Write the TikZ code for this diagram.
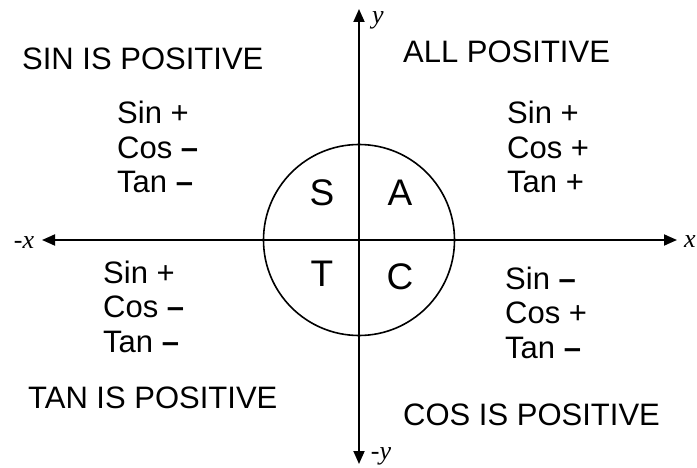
\documentclass[tikz,border=0pt]{standalone}
\usepackage{fontspec}
\setmainfont{Liberation Sans}
\newfontfamily\axisfont{Liberation Serif}
\usetikzlibrary{arrows.meta}

\begin{document}
\begin{tikzpicture}[x=1pt,y=-1pt,
  axisline/.style={line width=1.8pt,
    {Triangle[length=13pt,width=11pt]}-{Triangle[length=13pt,width=11pt]}},
  axislabel/.style={font=\axisfont\itshape\fontsize{26}{28}\selectfont,inner sep=0pt},
  signtext/.style={anchor=base west,align=left,inner sep=0pt,
    font=\fontsize{31}{34.5}\selectfont},
  quadletter/.style={inner sep=0pt,font=\fontsize{37}{40}\selectfont}]
  \useasboundingbox (0,0) rectangle (697,468);

  % axes and unit circle
  \coordinate (o) at (359,240);
  \coordinate (xneg) at (42,240);
  \coordinate (xpos) at (677,240);
  \coordinate (ypos) at (359,9);
  \coordinate (yneg) at (359,464);
  \draw[axisline] (xneg) -- (xpos);
  \draw[axisline] (yneg) -- (ypos);
  \node[draw,circle,line width=1.6pt,minimum size=191pt,inner sep=0pt] (unit) at (o) {};

  \node[axislabel] (ylab) at (378,20) {y};
  \node[axislabel] (nylab) at (381,456) {-y};
  \node[axislabel] (xlab) at (690,242) {x};
  \node[axislabel] (nxlab) at (24,243) {-x};

  \foreach \name/\px/\py/\letter in {S/322/193/S,A/400/193/A,T/322/274/T,C/400/277/C} {
    \node[quadletter] (q\name) at (\px,\py) {\letter};
  }

  % quadrant headings
  \node[signtext] (sinpos) at (22,70) {SIN IS POSITIVE};
  \node[signtext] (allpos) at (403,63) {ALL POSITIVE};
  \node[signtext] (tanpos) at (28,408) {TAN IS POSITIVE};
  \node[signtext] (cospos) at (403,425) {COS IS POSITIVE};

  % signs of sin, cos, tan (anchored at the last line)
  \node[signtext] (signII) at (117,193) {Sin +\\Cos \textbf{--}\\Tan \textbf{--}};
  \node[signtext] (signI) at (507,193) {Sin +\\Cos +\\Tan +};
  \node[signtext] (signIII) at (103,352) {Sin +\\Cos \textbf{--}\\Tan \textbf{--}};
  \node[signtext] (signIV) at (505,358) {Sin \textbf{--}\\Cos +\\Tan \textbf{--}};
\end{tikzpicture}
\end{document}
